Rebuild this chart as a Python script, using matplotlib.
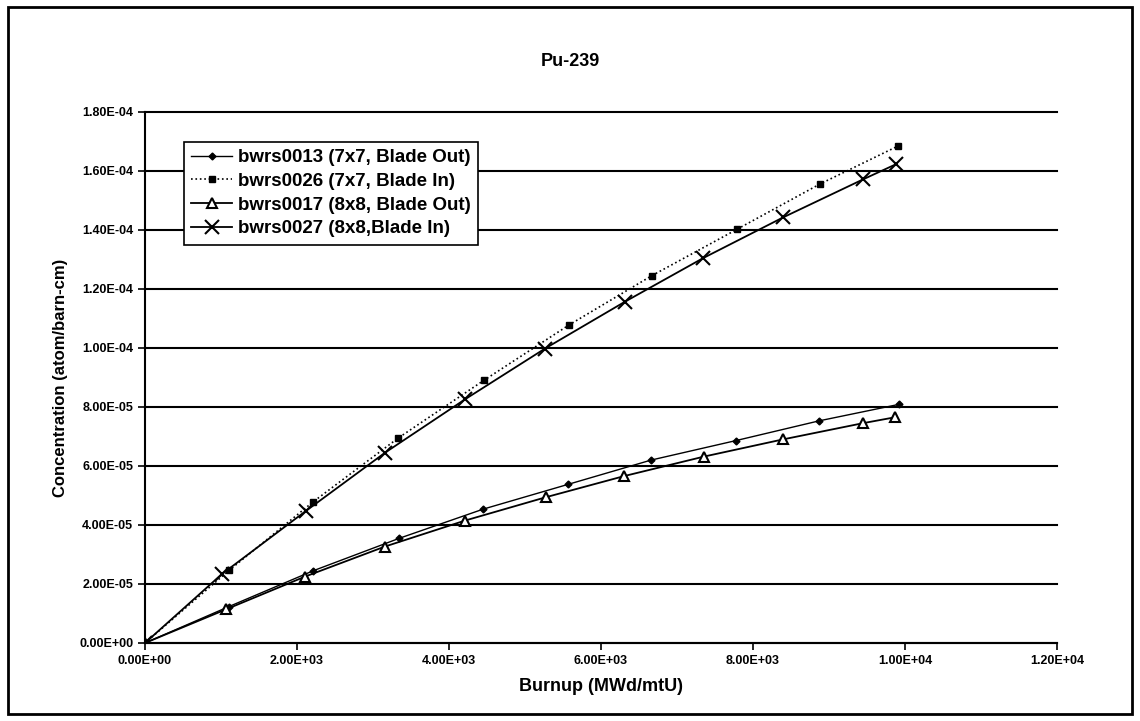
import matplotlib
matplotlib.use("Agg")
import matplotlib.pyplot as plt
from matplotlib.ticker import FuncFormatter, MultipleLocator
from matplotlib.patches import Rectangle

plt.rcParams['font.family'] = ['Liberation Sans', 'DejaVu Sans']

# burnup (MWd/mtU) and Pu-239 concentration (atom/barn-cm)
bu_0013 = [0, 1100, 2215, 3347, 4453, 5571, 6659, 7774, 8870, 9923]
pu_0013 = [0, 1.23e-5, 2.45e-5, 3.55e-5, 4.54e-5, 5.38e-5, 6.20e-5, 6.86e-5, 7.53e-5, 8.09e-5]

bu_0026 = [0, 1110, 2215, 3333, 4457, 5579, 6668, 7787, 8882, 9912]
pu_0026 = [0, 2.47e-5, 4.79e-5, 6.95e-5, 8.90e-5, 1.078e-4, 1.245e-4, 1.402e-4, 1.556e-4, 1.685e-4]

bu_0017 = [0, 1066, 2105, 3158, 4211, 5273, 6308, 7357, 8392, 9445, 9866]
pu_0017 = [0, 1.14e-5, 2.25e-5, 3.27e-5, 4.15e-5, 4.94e-5, 5.66e-5, 6.32e-5, 6.90e-5, 7.45e-5, 7.65e-5]

bu_0027 = [0, 1009, 2114, 3158, 4211, 5263, 6316, 7339, 8399, 9452, 9882]
pu_0027 = [0, 2.33e-5, 4.47e-5, 6.45e-5, 8.26e-5, 9.98e-5, 1.157e-4, 1.304e-4, 1.443e-4, 1.572e-4, 1.623e-4]

labels = ["bwrs0013 (7x7, Blade Out)", "bwrs0026 (7x7, Blade In)",
          "bwrs0017 (8x8, Blade Out)", "bwrs0027 (8x8,Blade In)"]

fig = plt.figure(figsize=(11.4, 7.21), dpi=100)
ax = fig.add_axes([0.1272, 0.1082, 0.8, 0.7365])

# outer chart border
fig.patches.append(Rectangle((0.007, 0.01), 0.986, 0.98, transform=fig.transFigure,
                             fill=False, edgecolor='black', linewidth=2))

ax.plot(bu_0013, pu_0013, '-', color='black', lw=1.0, marker='D', ms=3.5, label=labels[0])
ax.plot(bu_0026, pu_0026, ':', color='black', lw=1.2, marker='s', ms=5, label=labels[1])
ax.plot(bu_0017, pu_0017, '-', color='black', lw=1.3, marker='^', ms=7,
        markerfacecolor='white', markeredgewidth=1.5, label=labels[2])
ax.plot(bu_0027, pu_0027, '-', color='black', lw=1.3, marker='x', ms=10,
        markeredgewidth=1.5, label=labels[3])

ax.set_xlim(0, 12000)
ax.set_ylim(0, 1.8e-4)
ax.xaxis.set_major_locator(MultipleLocator(2000))
ax.yaxis.set_major_locator(MultipleLocator(2e-5))
fmt = FuncFormatter(lambda v, p: f"{v:.2E}")
ax.xaxis.set_major_formatter(fmt)
ax.yaxis.set_major_formatter(fmt)
ax.grid(axis='y', color='black', linewidth=1.5)
ax.set_axisbelow(True)
for gl in ax.get_ygridlines():
    gl.set_clip_on(False)

for s in ['top', 'right']:
    ax.spines[s].set_visible(False)
for s in ['left', 'bottom']:
    ax.spines[s].set_linewidth(1.5)

ax.tick_params(axis='both', direction='out', length=5, width=1.2, labelsize=9)
for t in ax.get_xticklabels() + ax.get_yticklabels():
    t.set_fontweight('bold')

ax.set_xlabel("Burnup (MWd/mtU)", fontsize=13, fontweight='bold', labelpad=8)
ax.set_ylabel("Concentration (atom/barn-cm)", fontsize=12, fontweight='bold', labelpad=8)
fig.text(0.5, 0.915, "Pu-239", ha='center', va='center', fontsize=13, fontweight='bold')

leg = ax.legend(loc='upper left', bbox_to_anchor=(0.032, 0.962), fancybox=False,
                framealpha=1, edgecolor='black', fontsize=13.5, handlelength=2.2,
                borderpad=0.4, labelspacing=0.35, handletextpad=0.3)
leg.get_frame().set_linewidth(1.2)
for t in leg.get_texts():
    t.set_fontweight('bold')

fig.savefig("out.png", dpi=100)
